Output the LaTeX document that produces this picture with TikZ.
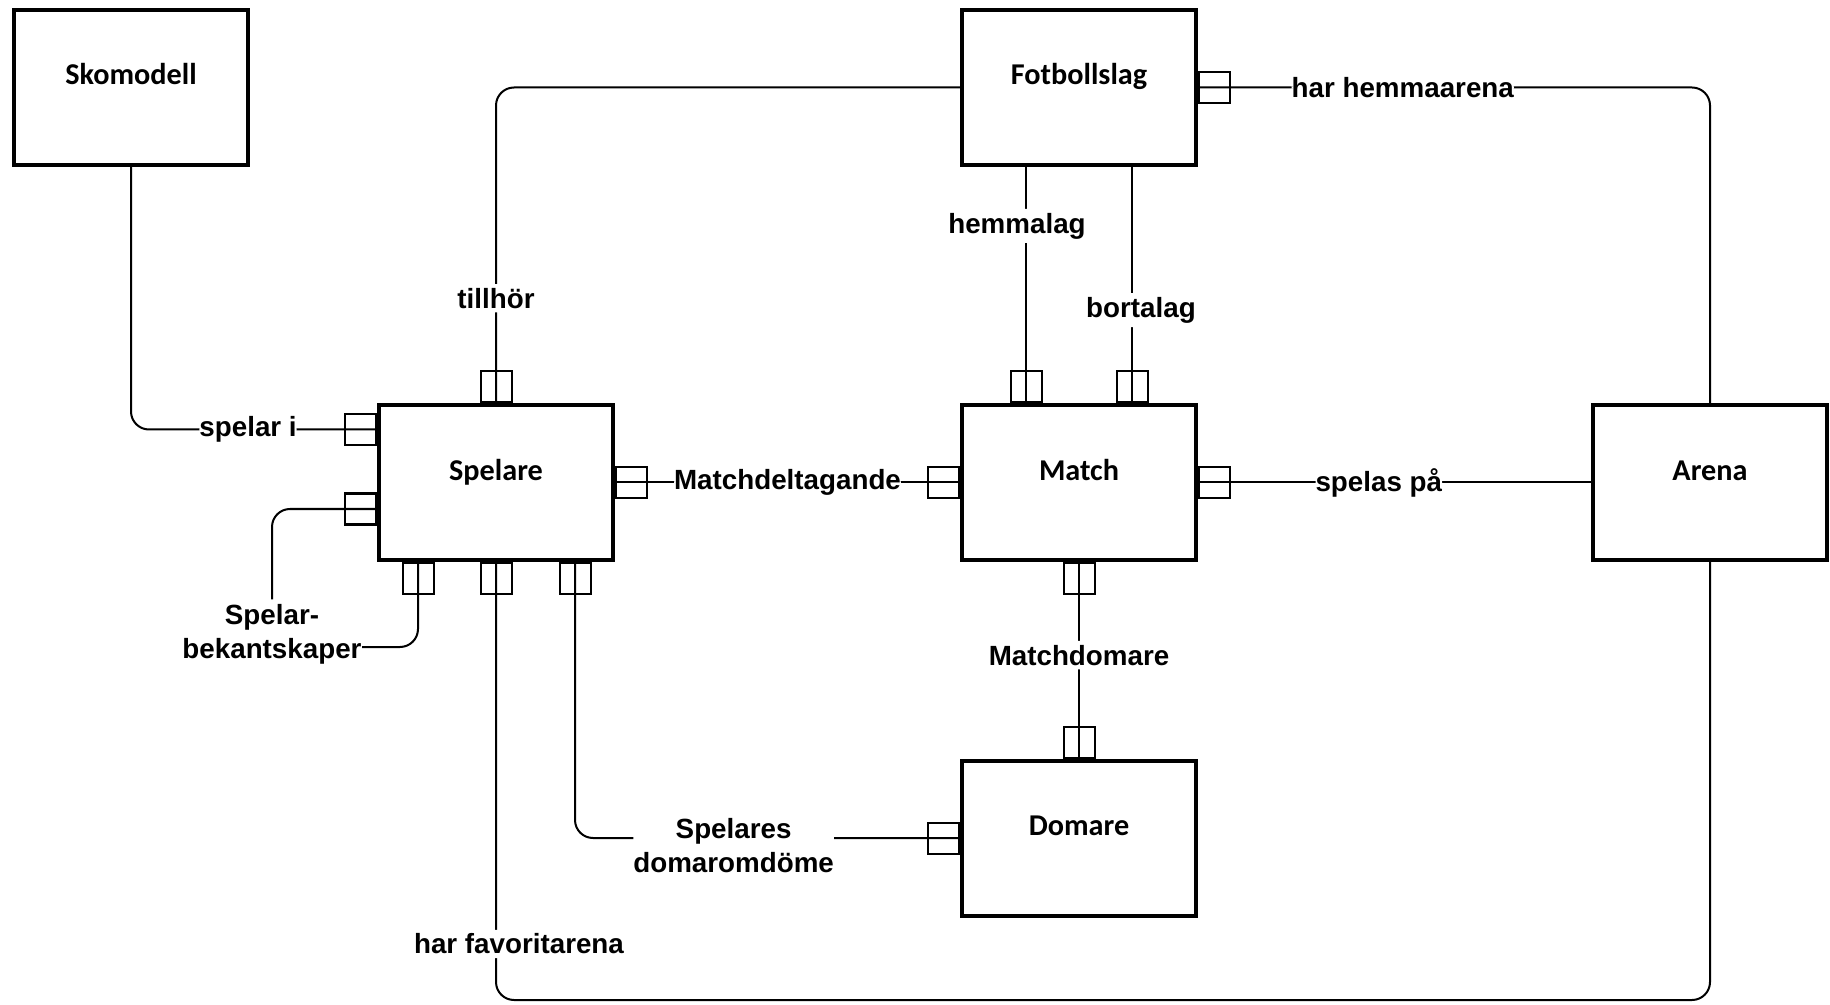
\documentclass[tikz,border=0pt]{standalone}
\usepackage{fontspec}
\setmainfont{Liberation Sans}
\newfontfamily\entfont{Carlito}

\begin{document}
\begin{tikzpicture}[
    entity/.style={draw, line width=0.04cm, minimum width=2.34cm, minimum height=1.55cm,
        inner sep=0pt, text height=0.2cm, text depth=0.25cm,
        font=\entfont\bfseries\fontsize{8.6}{10}\selectfont},
    port/.style={draw, line width=0.02cm, minimum size=0.31cm, inner sep=0pt},
    rel/.style={line width=0.02cm, rounded corners=0.18cm},
    lbl/.style={fill=white, inner xsep=0pt, inner ysep=0.04cm, align=center,
        font=\bfseries\fontsize{7.9}{9.7}\selectfont}]

    \useasboundingbox (0,0) rectangle (18.30,10.04);

    % entities
    \node[entity] (sko) at (1.31,9.165) {Skomodell};
    \node[entity] (fot) at (10.79,9.165) {Fotbollslag};
    \node[entity] (spe) at (4.96,5.215) {Spelare};
    \node[entity] (mat) at (10.79,5.215) {Match};
    \node[entity] (are) at (17.10,5.215) {Arena};
    \node[entity] (dom) at (10.79,1.66) {Domare};

    % ports
    \node[port, anchor=east] (speL1) at ([yshift=5.3mm]spe.west) {};
    \node[port, anchor=east] (speL2) at ([yshift=-2.65mm]spe.west) {};
    \node[port, anchor=west] (speR) at (spe.east) {};
    \node[port, anchor=south] (speT) at (spe.north) {};
    \node[port, anchor=north] (speB1) at ([xshift=-7.8mm]spe.south) {};
    \node[port, anchor=north] (speB2) at (spe.south) {};
    \node[port, anchor=north] (speB3) at ([xshift=7.9mm]spe.south) {};
    \node[port, anchor=east] (matL) at (mat.west) {};
    \node[port, anchor=west] (matR) at (mat.east) {};
    \node[port, anchor=south] (matT1) at ([xshift=-5.3mm]mat.north) {};
    \node[port, anchor=south] (matT2) at ([xshift=5.3mm]mat.north) {};
    \node[port, anchor=north] (matB) at (mat.south) {};
    \node[port, anchor=west] (fotR) at (fot.east) {};
    \node[port, anchor=south] (domT) at (dom.north) {};
    \node[port, anchor=east] (domL) at (dom.west) {};

    \node[lbl] (bek) at (2.72,3.70) {Spelar-\\bekantskaper};
    \coordinate (bot) at (0,0.04);

    % relationships
    \draw[rel] (sko.south) |- node[lbl, pos=0.738] {spelar i} (speL1.east);
    \draw[rel] (speT.south) |- node[lbl, pos=0.166] {tillhör} (fot.west);
    \draw[rel] (speR.west) -- node[lbl] {Matchdeltagande} (matL.east);
    \draw[rel] (matT1 |- fot.south) -- node[lbl, pos=0.25, xshift=-0.9mm] {hemmalag} (matT1.south);
    \draw[rel] (matT2 |- fot.south) -- node[lbl, pos=0.606, xshift=0.9mm] {bortalag} (matT2.south);
    \draw[rel] (fotR.west) -| node[lbl, pos=0.2] {har hemmaarena} (are.north);
    \draw[rel] (matR.west) -- node[lbl, pos=0.46] {spelas på} (are.west);
    \draw[rel] (matB.north) -- node[lbl, pos=0.474] {Matchdomare} (domT.south);
    \draw[rel] (speB3.north) |- node[lbl, pos=0.706, yshift=-0.8mm] {Spelares\\domaromdöme} (domL.east);
    \draw[rel] (speB2.north) |- node[lbl, pos=0.436, xshift=2.3mm] {har favoritarena} (bot -| are.south) -- (are.south);
    \draw[rel] (speL2.east) -| (bek.north);
    \draw[rel] (speB1.north) |- ([yshift=-1.3mm]bek.east);
\end{tikzpicture}
\end{document}
